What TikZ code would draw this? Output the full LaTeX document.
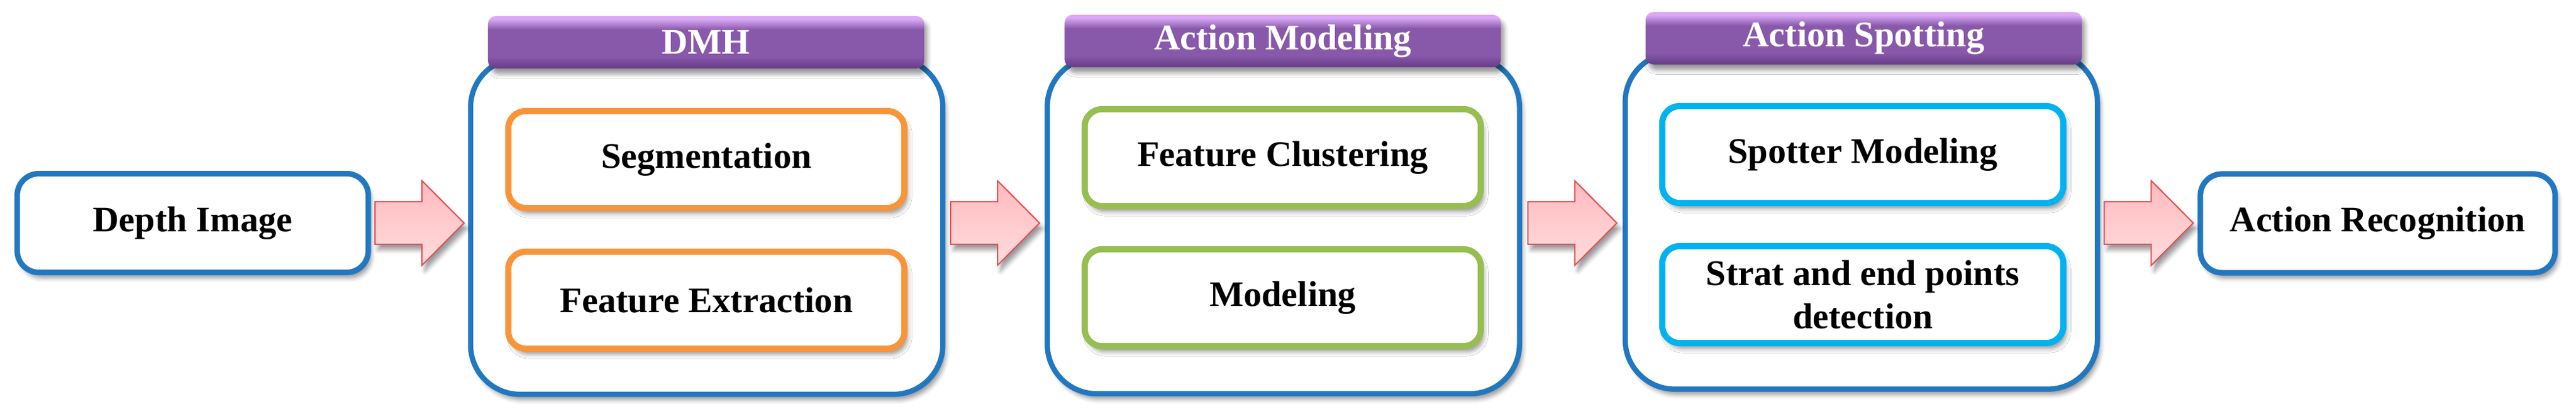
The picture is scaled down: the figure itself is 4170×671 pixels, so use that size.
\documentclass[tikz,border=0pt]{standalone}
\usepackage{fontspec}
\setmainfont{Liberation Serif}
\usetikzlibrary{calc,shadows.blur}
\definecolor{bblue}{RGB}{34,120,192}
\definecolor{borange}{RGB}{248,148,58}
\definecolor{bgreen}{RGB}{150,190,80}
\definecolor{bcyan}{RGB}{0,178,240}
\definecolor{ptop}{RGB}{218,168,246}
\definecolor{pmid}{RGB}{136,88,170}
\definecolor{pbot}{RGB}{102,60,136}
\definecolor{ared}{RGB}{222,80,82}
\definecolor{atop}{RGB}{255,186,190}
\definecolor{abot}{RGB}{255,220,222}
\pgfdeclareverticalshading{hdrshade}{100bp}{color(0bp)=(pbot); color(25bp)=(pbot); color(36bp)=(pmid); color(62bp)=(pmid); color(72bp)=(ptop); color(100bp)=(ptop)}
\begin{document}
\begin{tikzpicture}[x=0.01cm,y=-0.01cm,
  every node/.style={font=\fontsize{16.6}{20}\selectfont\bfseries, align=center, inner sep=0pt},
  shd/.style={blur shadow={shadow xshift=0.05cm, shadow yshift=-0.09cm, shadow blur radius=0.07cm, shadow opacity=40}},
  endbox/.style={draw=bblue, line width=0.09cm, rounded corners=0.35cm, fill=white, shd, minimum height=1.6cm},
  outerbox/.style={draw=bblue, line width=0.085cm, rounded corners=0.8cm, fill=white, shd, minimum width=7.64cm, minimum height=5.45cm},
  header/.style={shade, shading=hdrshade, rounded corners=0.13cm, text=white, minimum width=7.06cm, minimum height=0.85cm, shd},
  innerbox/.style={line width=0.1cm, rounded corners=0.28cm, fill=white, shd, minimum width=6.41cm, minimum height=1.57cm},
  orangebox/.style={innerbox, draw=borange},
  greenbox/.style={innerbox, draw=bgreen},
  cyanbox/.style={innerbox, draw=bcyan, minimum width=6.49cm},
  arrowbody/.style={draw=ared, line width=0.02cm, line join=miter, top color=atop, bottom color=abot, shd},
  barrow/.pic={\path[arrowbody] (-72,-34.5) -- (4,-34.5) -- (4,-68.5) -- (72,0) -- (4,68.5) -- (4,34.5) -- (-72,34.5) -- cycle;}
]
\useasboundingbox (0,0) rectangle (4170,671);

% end boxes
\node[endbox, minimum width=5.68cm] (depth) at (312,361.5) {Depth Image};
\node[endbox, minimum width=5.74cm] (recog) at (3849,362) {Action Recognition};

% DMH group
\node[outerbox] (dmh) at (1144,366.5) {};
\node[header] (dmhh) at (1143,68.5) {DMH};
\node[orangebox] (seg) at (1143.5,258.5) {Segmentation};
\node[orangebox] (fext) at (1143.5,486.5) {Feature Extraction};

% Action Modeling group
\node[outerbox] (am) at (2077.5,365.5) {};
\node[header] (amh) at (2076.5,66.5) {Action Modeling};
\node[greenbox] (fclu) at (2076.5,255.5) {Feature Clustering};
\node[greenbox] (mod) at (2076.5,482.5) {Modeling};

% Action Spotting group
\node[outerbox] (as) at (3013,358) {};
\node[header] (ash) at (3017,62) {Action Spotting};
\node[cyanbox] (spot) at (3015.5,250.5) {Spotter Modeling};
\node[cyanbox] (strat) at (3015.5,477.5) {Strat and end points\\detection};

% block arrows between consecutive stages
\coordinate (m1) at ($(depth.east)!0.5!(dmh.west)$);
\coordinate (m2) at ($(dmh.east)!0.5!(am.west)$);
\coordinate (m3) at ($(am.east)!0.5!(as.west)$);
\coordinate (m4) at ($(as.east)!0.5!(recog.west)$);
\pic at (m1 |- depth.center) {barrow};
\pic at (m2 |- depth.center) {barrow};
\pic at (m3 |- depth.center) {barrow};
\pic at (m4 |- depth.center) {barrow};
\end{tikzpicture}
\end{document}
